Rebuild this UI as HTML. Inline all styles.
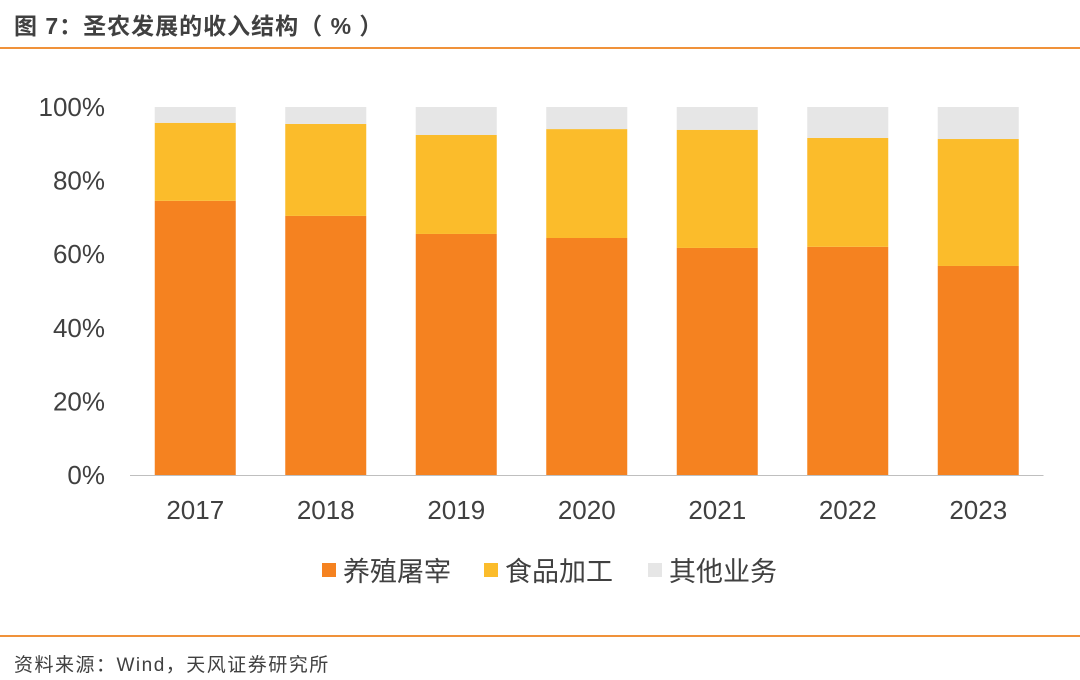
<!DOCTYPE html>
<html><head><meta charset="utf-8"><style>
body{margin:0;width:1080px;height:680px;background:#fff;font-family:"Liberation Sans","Noto Sans CJK SC",sans-serif;overflow:hidden;position:relative}
#title{position:absolute;left:14px;top:7px;font-size:23px;font-weight:bold;color:#404040;letter-spacing:1px}
#tline{position:absolute;left:0;top:47px;width:1080px;height:2px;background:#F0923A}
#fline{position:absolute;left:0;top:635px;width:1080px;height:2px;background:#F0923A}
#src{position:absolute;left:14px;top:650px;font-size:19px;color:#404040;letter-spacing:1.5px}
</style></head><body>
<div id="title">图 7：圣农发展的收入结构（ % ）</div>
<div id="tline"></div>
<svg id="chart" width="1080" height="680" style="position:absolute;left:0;top:0"></svg>
<div id="fline"></div>
<div id="src">资料来源：Wind，天风证券研究所</div>
<script>
const categories=["2017","2018","2019","2020","2021","2022","2023"];
const breeding=[74.5,70.4,65.5,64.4,61.7,62.0,56.8];
const food=[21.2,25.0,26.9,29.6,32.1,29.6,34.5];
const other=[4.3,4.6,7.6,6.0,6.2,8.4,8.7];
const yTicks=[0,20,40,60,80,100];
const seriesNames=["养殖屠宰","食品加工","其他业务"];
const colors=["#F58220","#FBBC2B","#E6E6E6"];
const NS="http://www.w3.org/2000/svg";
const svg=document.getElementById('chart');
const y0=475,y1=107,x0=130,step=130.5,bw=81;
const y=v=>y0-(y0-y1)*v/100;
const xc=i=>x0+step*(i+0.5);
function mk(t,a){const e=document.createElementNS(NS,t);for(const k in a)e.setAttribute(k,a[k]);svg.appendChild(e);return e;}
yTicks.forEach(t=>{const e=mk('text',{x:105,y:y(t)+9,'text-anchor':'end','font-size':26,fill:'#404040'});e.textContent=t+'%';

});
const series=[breeding,food,other];
categories.forEach((c,i)=>{let base=0;
series.forEach((s,k)=>{const r=mk('rect',{x:xc(i)-bw/2,y:y(base+s[i]),width:bw,height:y(base)-y(base+s[i]),fill:colors[k]});

base+=s[i];});
const t=mk('text',{x:xc(i),y:519,'text-anchor':'middle','font-size':26,fill:'#404040'});t.textContent=c;

});
const ax=mk('line',{x1:x0,x2:x0+step*7,y1:y0+0.5,y2:y0+0.5,stroke:'#BFBFBF','stroke-width':1});


const lx=[322,484,648];
seriesNames.forEach((n,k)=>{const r=mk('rect',{x:lx[k],y:563,width:14,height:14,fill:colors[k]});


const t=mk('text',{x:lx[k]+21,y:581,'font-size':27,fill:'#404040'});t.textContent=n;

});
</script>
</body></html>
